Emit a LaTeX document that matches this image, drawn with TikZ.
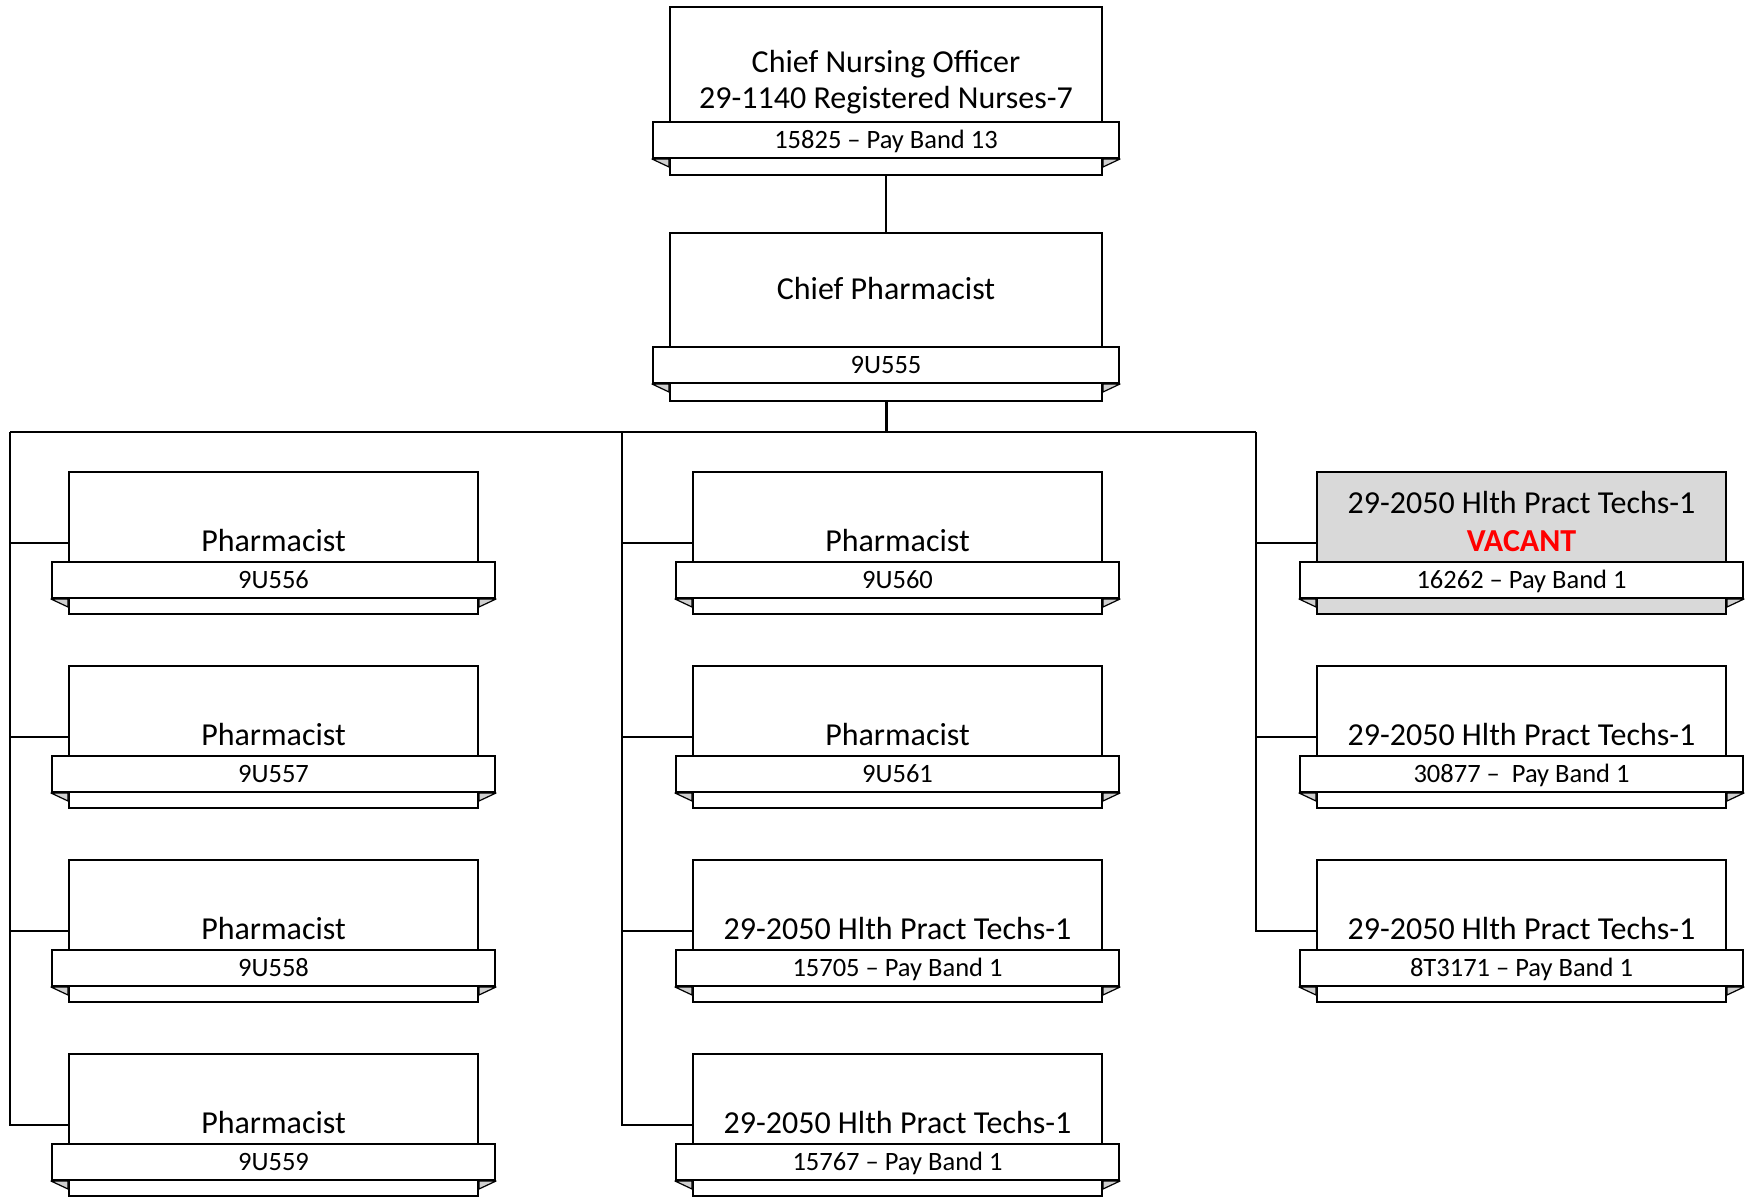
\documentclass[tikz,border=0pt]{standalone}
\usepackage{fontspec}
\setmainfont{Carlito}
\definecolor{vacantgray}{HTML}{D9D9D9}
\definecolor{foldgray}{HTML}{D0D0D0}
\tikzset{
  cardbox/.style={draw=black, line width=2pt, inner sep=0pt},
  ribbonbox/.style={draw=black, fill=white, line width=2pt, inner sep=0pt, minimum height=36pt,
    font=\fontsize{26.5}{31}\selectfont, text height=21pt, text depth=5pt},
  foldtri/.style={draw=black, fill=foldgray, line width=1.2pt, line join=round},
  maintext/.style={inner sep=0pt, font=\fontsize{32}{38}\selectfont, anchor=base},
  vacanttext/.style={maintext, text=red, font=\fontsize{32}{38}\selectfont\bfseries},
  conn/.style={draw=black, line width=2.4pt},
  connthick/.style={draw=black, line width=3pt},
}
% #1 name, #2 centre x, #3 top y, #4 width, #5 height, #6 ribbon offset, #7 fill, #8 ribbon text
\newcommand{\orgcard}[8]{%
  \node[cardbox, fill=#7, minimum width=#4, minimum height=#5, anchor=north] (#1) at (#2,#3) {};
  \node[ribbonbox, minimum width=#4+34, anchor=north] (#1r) at (#2,#3+#6) {#8};
  \filldraw[foldtri] (#1r.south west) -- (#1r.south west -| #1.west) -- ++(0,8) -- cycle;
  \filldraw[foldtri] (#1r.south east) -- (#1r.south east -| #1.east) -- ++(0,8) -- cycle;
}
\begin{document}
\begin{tikzpicture}[x=1pt,y=-1pt]
\useasboundingbox (0,0) rectangle (1747,1196);
\clip (0,0) rectangle (1747,1196);
\fill[white] (0,0) rectangle (1747,1196);

% top cards
\orgcard{cno}{886}{6}{432}{168}{115}{white}{15825 – Pay Band 13}
\node[maintext] (cnoa) at (886,73) {Chief Nursing Officer};
\node[maintext] (cnob) at (886,109) {29-1140 Registered Nurses-7};

\orgcard{cp}{886}{232}{432}{168}{114}{white}{9U555}
\node[maintext] (cpa) at (886,299) {Chief Pharmacist};

% left column
\orgcard{pa}{273.5}{471}{409}{142}{90}{white}{9U556}
\node[maintext] (pat) at (273.5,551) {Pharmacist};
\orgcard{pb}{273.5}{665}{409}{142}{90}{white}{9U557}
\node[maintext] (pbt) at (273.5,745) {Pharmacist};
\orgcard{pc}{273.5}{859}{409}{142}{90}{white}{9U558}
\node[maintext] (pct) at (273.5,939) {Pharmacist};
\orgcard{pd}{273.5}{1053}{409}{142}{90}{white}{9U559}
\node[maintext] (pdt) at (273.5,1133) {Pharmacist};

% middle column
\orgcard{ma}{897.5}{471}{409}{142}{90}{white}{9U560}
\node[maintext] (mat) at (897.5,551) {Pharmacist};
\orgcard{mb}{897.5}{665}{409}{142}{90}{white}{9U561}
\node[maintext] (mbt) at (897.5,745) {Pharmacist};
\orgcard{mc}{897.5}{859}{409}{142}{90}{white}{15705 – Pay Band 1}
\node[maintext] (mct) at (897.5,939) {29-2050 Hlth Pract Techs-1};
\orgcard{md}{897.5}{1053}{409}{142}{90}{white}{15767 – Pay Band 1}
\node[maintext] (mdt) at (897.5,1133) {29-2050 Hlth Pract Techs-1};

% right column
\orgcard{ra}{1521.5}{471}{409}{142}{90}{vacantgray}{16262 – Pay Band 1}
\node[maintext] (rat) at (1521.5,513) {29-2050 Hlth Pract Techs-1};
\node[vacanttext] (rav) at (1521.5,551) {VACANT};
\orgcard{rb}{1521.5}{665}{409}{142}{90}{white}{30877 –\ \ Pay Band 1}
\node[maintext] (rbt) at (1521.5,745) {29-2050 Hlth Pract Techs-1};
\orgcard{rc}{1521.5}{859}{409}{142}{90}{white}{8T3171 – Pay Band 1}
\node[maintext] (rct) at (1521.5,939) {29-2050 Hlth Pract Techs-1};

% connectors
\coordinate (busL) at (10,432);
\coordinate (busM) at (622,432);
\coordinate (busR) at (1256,432);
\draw[conn] (cno.south) -- (cp.north);
\draw[connthick] (cp.south) -- (cp.south |- busM);
\draw[conn] (busL) -- (busR);
\draw[conn] (busL) |- (pd.west);
\draw[conn] (busL |- pa.west) -- (pa.west);
\draw[conn] (busL |- pb.west) -- (pb.west);
\draw[conn] (busL |- pc.west) -- (pc.west);
\draw[conn] (busM) |- (md.west);
\draw[conn] (busM |- ma.west) -- (ma.west);
\draw[conn] (busM |- mb.west) -- (mb.west);
\draw[conn] (busM |- mc.west) -- (mc.west);
\draw[conn] (busR) |- (rc.west);
\draw[conn] (busR |- ra.west) -- (ra.west);
\draw[conn] (busR |- rb.west) -- (rb.west);
\end{tikzpicture}
\end{document}
